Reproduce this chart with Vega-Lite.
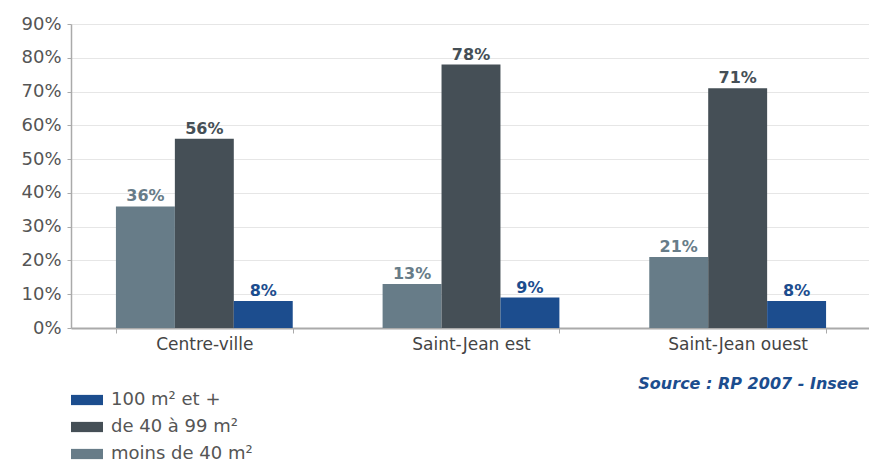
{
  "$schema": "https://vega.github.io/schema/vega-lite/v6.json",
  "width": 800,
  "height": 304,
  "autosize": "none",
  "padding": {"left": 71, "top": 24, "right": 0, "bottom": 134},
  "background": "white",
  "config": {
    "font": "DejaVu Sans",
    "view": {"stroke": null}
  },
  "data": {
    "values": [
      {"zone": "Centre-ville", "cat": "moins de 40 m²", "v": 0.36},
      {"zone": "Centre-ville", "cat": "de 40 à 99 m²", "v": 0.56},
      {"zone": "Centre-ville", "cat": "100 m² et +", "v": 0.08},
      {"zone": "Saint-Jean est", "cat": "moins de 40 m²", "v": 0.13},
      {"zone": "Saint-Jean est", "cat": "de 40 à 99 m²", "v": 0.78},
      {"zone": "Saint-Jean est", "cat": "100 m² et +", "v": 0.09},
      {"zone": "Saint-Jean ouest", "cat": "moins de 40 m²", "v": 0.21},
      {"zone": "Saint-Jean ouest", "cat": "de 40 à 99 m²", "v": 0.71},
      {"zone": "Saint-Jean ouest", "cat": "100 m² et +", "v": 0.08}
    ]
  },
  "encoding": {
    "x": {
      "field": "zone",
      "type": "nominal",
      "sort": null,
      "scale": {"paddingInner": 0.337, "paddingOuter": 0.1685},
      "axis": {
        "title": "Source : RP 2007 - Insee",
        "titleAnchor": "end",
        "titleAlign": "right",
        "titleX": 787,
        "titleY": 47,
        "titleFontStyle": "italic",
        "titleFontWeight": "bold",
        "titleFontSize": 16,
        "titleColor": "#1c4d8e",
        "labelAngle": 0,
        "labelFontSize": 17,
        "labelColor": "#444444",
        "labelPadding": 3,
        "domainColor": "#aaaaaa",
        "domainWidth": 2,
        "tickColor": "#aaaaaa",
        "tickBand": "extent",
        "tickSize": 5,
        "grid": false
      }
    },
    "xOffset": {
      "field": "cat",
      "type": "nominal",
      "sort": ["moins de 40 m²", "de 40 à 99 m²", "100 m² et +"],
      "scale": {"paddingInner": 0, "paddingOuter": 0}
    },
    "y": {
      "field": "v",
      "type": "quantitative",
      "scale": {"domain": [0, 0.9], "nice": false},
      "axis": {
        "title": null,
        "format": ".0%",
        "values": [0, 0.1, 0.2, 0.3, 0.4, 0.5, 0.6, 0.7, 0.8, 0.9],
        "labelFontSize": 18,
        "labelColor": "#555555",
        "labelPadding": 6,
        "domainColor": "#aaaaaa",
        "domainWidth": 1.5,
        "tickColor": "#aaaaaa",
        "tickSize": 4,
        "gridColor": "#e6e6e6",
        "gridWidth": 1
      }
    },
    "color": {
      "field": "cat",
      "type": "nominal",
      "scale": {
        "domain": ["100 m² et +", "de 40 à 99 m²", "moins de 40 m²"],
        "range": ["#1c4d8e", "#454f56", "#677c88"]
      },
      "legend": {
        "title": null,
        "orient": "none",
        "legendX": 0,
        "legendY": 360,
        "symbolType": "M-1,-0.32H1V0.32H-1Z",
        "symbolSize": 1024,
        "symbolStrokeWidth": 0,
        "labelFontSize": 18,
        "labelColor": "#555555",
        "labelOffset": 8,
        "rowPadding": 2,
        "symbolOpacity": 1
      }
    }
  },
  "layer": [
    {"mark": {"type": "bar"}},
    {
      "mark": {"type": "text", "baseline": "bottom", "dy": -2, "fontSize": 16, "fontWeight": "bold"},
      "encoding": {"text": {"field": "v", "type": "quantitative", "format": ".0%"}}
    }
  ]
}
